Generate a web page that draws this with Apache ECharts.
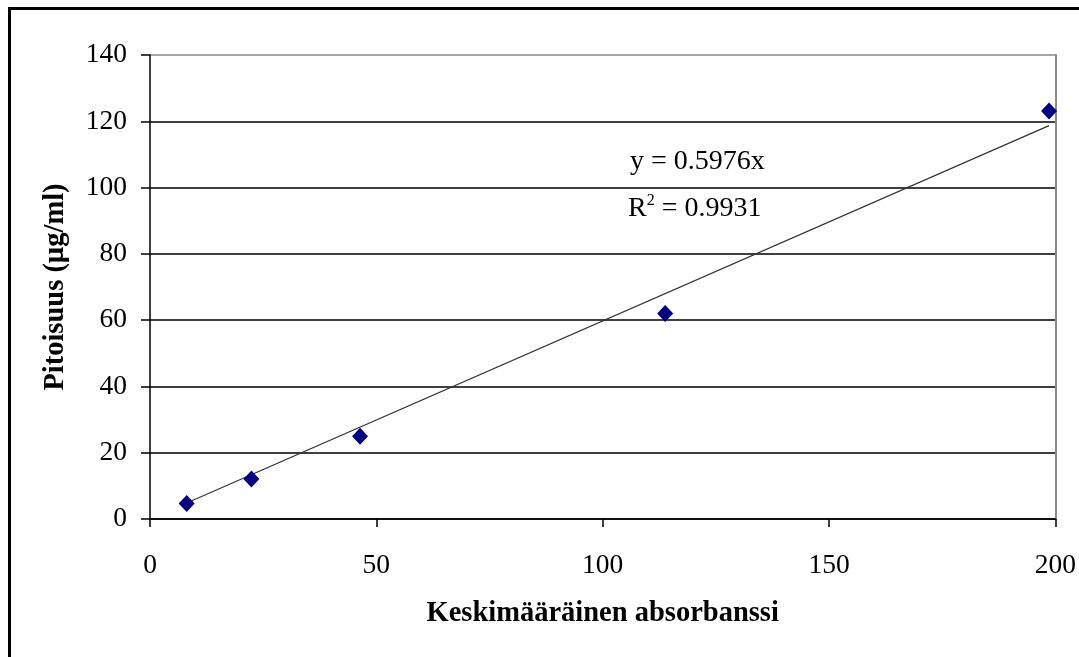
<!DOCTYPE html>
<html><head><meta charset="utf-8">
<script src="https://cdn.jsdelivr.net/npm/echarts@6/dist/echarts.min.js"></script>
<style>html,body{margin:0;padding:0;background:#fff}#c{width:1079px;height:657px}</style>
</head><body><div id="c"></div>
<script>
const xValues = [8.1, 22.4, 46.4, 113.8, 198.6];
const yValues = [4.7, 12.1, 25.0, 62.0, 123.1];
const trendX = [8.1, 198.6];
const trendSlope = 0.5976;
const xTicks = [0, 50, 100, 150, 200];
const yTicks = [0, 20, 40, 60, 80, 100, 120, 140];
const xName = 'Keskimääräinen absorbanssi';
const yName = 'Pitoisuus (µg/ml)';
const eqLine1 = 'y = 0.5976x';
const eqR2 = '0.9931';

const FONT = '"Liberation Serif","Times New Roman",serif';
const chart = echarts.init(document.getElementById('c'), null, {renderer: 'canvas'});
const splitColors = yTicks.map((t, i) => i === yTicks.length - 1 ? '#8a8a8a' : '#000');
chart.setOption({
  animation: false,
  backgroundColor: '#fff',
  grid: {left: 150, top: 55, right: 21, bottom: 138, containLabel: false},
  xAxis: {
    type: 'value', min: xTicks[0], max: xTicks[xTicks.length - 1], interval: 50,
    name: xName, nameLocation: 'middle', nameGap: 80,
    nameTextStyle: {fontFamily: FONT, fontWeight: 'bold', fontSize: 28.5, color: '#000'},
    axisLine: {show: true, lineStyle: {color: '#000', width: 1.5}},
    axisTick: {show: true, inside: false, length: 8, lineStyle: {color: '#000', width: 1.5}},
    axisLabel: {fontFamily: FONT, fontSize: 27.5, color: '#000', margin: 33},
    splitLine: {show: false}
  },
  yAxis: [{
    type: 'value', min: yTicks[0], max: yTicks[yTicks.length - 1], interval: 20,
    name: yName, nameLocation: 'middle', nameGap: 80, nameRotate: 90,
    nameTextStyle: {fontFamily: FONT, fontWeight: 'bold', fontSize: 28.5, color: '#000'},
    axisLine: {show: true, lineStyle: {color: '#000', width: 1.5}},
    axisTick: {show: true, inside: false, length: 9, lineStyle: {color: '#000', width: 1.5}},
    axisLabel: {fontFamily: FONT, fontSize: 27.5, color: '#000', margin: 23},
    splitLine: {show: true, lineStyle: {color: splitColors, width: 1.5}}
  }, {
    type: 'value', position: 'right', min: yTicks[0], max: yTicks[yTicks.length - 1], interval: 20,
    axisLine: {show: true, lineStyle: {color: '#8a8a8a', width: 2}},
    axisTick: {show: false}, axisLabel: {show: false}, splitLine: {show: false}
  }],
  series: [{
    type: 'line',
    data: trendX.map(x => [x, trendSlope * x]),
    symbol: 'none',
    lineStyle: {color: '#333', width: 1.2},
    z: 2
  }, {
    type: 'scatter',
    data: xValues.map((x, i) => [x, yValues[i]]),
    symbol: 'diamond',
    symbolSize: [16, 17],
    itemStyle: {color: '#000080', opacity: 1},
    z: 3
  }],
  graphic: [{
    type: 'rect', shape: {x: 9.5, y: 8.5, width: 1200, height: 800},
    style: {fill: 'none', stroke: '#000', lineWidth: 3}, silent: true
  }, {
    type: 'text', left: 630, top: 148,
    style: {text: eqLine1, font: '28px ' + FONT, fill: '#000'}
  }, {
    type: 'text', left: 628, top: 193,
    style: {
      text: '{r|R}{s|2}{r| = ' + eqR2 + '}',
      rich: {
        r: {fontFamily: FONT, fontSize: 28, fill: '#000', verticalAlign: 'bottom'},
        s: {fontFamily: FONT, fontSize: 16, fill: '#000', verticalAlign: 'top', padding: [0, 0, 14, 0]}
      }
    }
  }]
});
</script></body></html>
